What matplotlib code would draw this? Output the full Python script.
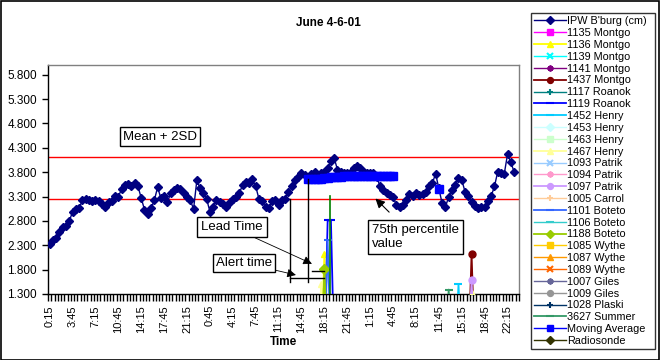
import numpy as np
import matplotlib
matplotlib.use("Agg")
import matplotlib.pyplot as plt
from matplotlib.patches import Rectangle

plt.rcParams['font.family'] = ['Liberation Sans', 'DejaVu Sans']

# ---------------- data ----------------
title = "June 4-6-01"
x_label = "Time"
n_categories = 144
tick_step = 7
tick_labels = ["0:15", "3:45", "7:15", "10:45", "14:15", "17:45", "21:15",
               "0:45", "4:15", "7:45", "11:15", "14:45", "18:15", "21:45",
               "1:15", "4:45", "8:15", "11:45", "15:15", "18:45", "22:15"]
y_ticks = [1.3, 1.8, 2.3, 2.8, 3.3, 3.8, 4.3, 4.8, 5.3, 5.8]

ipw = [2.33, 2.40, 2.44, 2.58, 2.67, 2.70, 2.79, 2.99, 3.04, 3.06,
       3.22, 3.25, 3.22, 3.20, 3.23, 3.20, 3.15, 3.09, 3.18, 3.20,
       3.31, 3.30, 3.45, 3.54, 3.56, 3.52, 3.57, 3.51, 3.27, 3.03,
       2.94, 3.06, 3.22, 3.49, 3.27, 3.31, 3.18, 3.37, 3.44, 3.47,
       3.45, 3.38, 3.30, 3.23, 3.04, 3.63, 3.47, 3.38, 3.25, 2.99,
       3.09, 3.23, 3.18, 3.15, 3.09, 3.18, 3.25, 3.30, 3.37, 3.54,
       3.59, 3.57, 3.66, 3.51, 3.25, 3.20, 3.09, 3.06, 3.20, 3.23,
       3.13, 3.22, 3.26, 3.40, 3.51, 3.63, 3.71, 3.78, 3.75, 3.71,
       3.77, 3.81, 3.71, 3.78, 3.81, 3.88, 4.02, 4.09, 3.85, 3.81,
       3.78, 3.78, 3.81, 3.88, 3.93, 3.88, 3.81, 3.78, 3.79, 3.78,
       3.71, 3.51, 3.44, 3.38, 3.33, 3.29, 3.13, 3.08, 3.13, 3.23,
       3.36, 3.32, 3.37, 3.34, 3.36, 3.40, 3.51, 3.57, 3.77, 3.47,
       3.16, 3.08, 3.30, 3.44, 3.54, 3.68, 3.64, 3.40, 3.31, 3.18,
       3.11, 3.06, 3.08, 3.08, 3.20, 3.31, 3.51, 3.81, 3.78, 3.77,
       4.17, 4.00, 3.81]

moving_avg_start = 79
moving_avg = [3.65, 3.65, 3.66, 3.66, 3.67, 3.68, 3.69, 3.70, 3.70, 3.71,
              3.71, 3.72, 3.72, 3.72, 3.73, 3.73, 3.73, 3.73, 3.73, 3.73,
              3.73, 3.73, 3.73, 3.72, 3.72, 3.72, 3.72]
moving_avg_extra_idx = 119
moving_avg_extra_val = 3.46

mean_2sd = 4.11
pct75 = 3.25

# sparse station reports: (category index, value)
spikes = {
    "1437 Montgo": [(129, 2.12)],
    "1136 Montgo": [(84, 2.12)],
    "1119 Roanok": [(85, 2.81), (86, 2.81)],
    "1452 Henry": [(125, 1.50)],
    "1467 Henry": [(83, 1.50), (129, 1.33)],
    "1097 Patrik": [(129, 1.59)],
    "1101 Boteto": [(85, 2.41)],
    "1188 Boteto": [(84, 1.82)],
    "3627 Summer": [(122, 1.39)],
}

series_names = ["IPW B'burg (cm)", "1135 Montgo", "1136 Montgo", "1139 Montgo",
                "1141 Montgo", "1437 Montgo", "1117 Roanok", "1119 Roanok",
                "1452 Henry", "1453 Henry", "1463 Henry", "1467 Henry",
                "1093 Patrik", "1094 Patrik", "1097 Patrik", "1005 Carrol",
                "1101 Boteto", "1106 Boteto", "1188 Boteto", "1085 Wythe",
                "1087 Wythe", "1089 Wythe", "1007 Giles", "1009 Giles",
                "1028 Plaski", "3627 Summer", "Moving Average", "Radiosonde"]
series_colors = ["#000080", "#FF00FF", "#FFFF00", "#00FFFF", "#800080", "#800000",
                 "#008080", "#0000FF", "#00CCFF", "#CCFFFF", "#CCFFCC", "#FFFF99",
                 "#99CCFF", "#FF99CC", "#CC99FF", "#FFCC99", "#3366FF", "#33CCCC",
                 "#99CC00", "#FFCC00", "#FF9900", "#FF6600", "#666699", "#969696",
                 "#003366", "#339966", "#0000FF", "#333300"]
star = (6, 2, 0)
series_markers = ["D", "s", "^", "x", star, "o", "+", "_", "_", "D", "s", "^",
                  "x", star, "o", "+", "_", "_", "D", "s", "^", "x", star, "o",
                  "+", "_", "s", "D"]

# annotation geometry (data coordinates)
lead_x_alert = 73.5
lead_y_bottom = 1.555
lead_h1_y, lead_h1_x = 1.631, 83.8
lead_h2_y, lead_h2_x0 = 1.775, 80.3
onset_x, onset_top = 85.8, 3.31

# ---------------- figure ----------------
W, H = 660, 360
fig = plt.figure(figsize=(W / 100, H / 100), dpi=100)
ax = fig.add_axes([48 / W, 1 - 294 / H, (519 - 48) / W, (294 - 65) / H])

x = np.arange(n_categories)

ax.axhline(mean_2sd, color="#FF0000", lw=1.0, zorder=1)
ax.axhline(pct75, color="#FF0000", lw=1.0, zorder=1)

handles = []
for name, col, mk in zip(series_names, series_colors, series_markers):
    thin = mk in ("_", "x", "+", star)
    ms = 6 if mk == "_" else 5
    if name == "IPW B'burg (cm)":
        y = np.full(n_categories, np.nan)
        y[:len(ipw)] = ipw
        h, = ax.plot(x, y, color=col, lw=1.0, marker="D", markersize=4.4,
                     markeredgecolor=col, zorder=4)
    elif name == "Moving Average":
        y = np.full(n_categories, np.nan)
        y[moving_avg_start:moving_avg_start + len(moving_avg)] = moving_avg
        y[moving_avg_extra_idx] = moving_avg_extra_val
        h, = ax.plot(x, y, color=col, lw=1.0, marker="s", markersize=5.3,
                     markeredgecolor=col, zorder=5)
    elif name in spikes:
        y = np.full(n_categories, np.nan)
        for idx, val in spikes[name]:
            y[idx] = val
        for idx, val in spikes[name]:
            for nb in (idx - 1, idx + 1):
                if np.isnan(y[nb]):
                    y[nb] = 0.0
        h, = ax.plot(x, y, color=col, lw=1.3, marker=mk, markersize=ms,
                     markeredgecolor=col, markeredgewidth=1.5 if thin else 1,
                     zorder=3)
    else:
        h, = ax.plot([], [], color=col, lw=1.0, marker=mk, markersize=ms,
                     markeredgecolor=col, markeredgewidth=1.5 if thin else 1)
    h.set_label(name)
    handles.append(h)

# lead-time construction lines
ax.plot([lead_x_alert, lead_x_alert], [pct75, lead_y_bottom], color="black", lw=1, zorder=6)
ax.plot([moving_avg_start, moving_avg_start], [moving_avg[0], lead_y_bottom],
        color="black", lw=1, zorder=6)
ax.plot([lead_x_alert, lead_h1_x], [lead_h1_y, lead_h1_y], color="black", lw=1, zorder=6)
ax.plot([lead_h2_x0, lead_h1_x], [lead_h2_y, lead_h2_y], color="black", lw=1, zorder=6)
ax.plot([onset_x, onset_x], [1.3, onset_top], color="#008000", lw=1.2, zorder=6)

box = dict(boxstyle="square,pad=0.25", fc="white", ec="black", lw=1)
ax.text(33.8, 4.53, "Mean + 2SD", fontsize=9.5, ha="center", va="center", bbox=box, zorder=7)
ax.annotate("Lead Time", xy=(80.2, 1.92), xytext=(55.8, 2.668), fontsize=9.5,
            ha="center", va="center", zorder=7,
            bbox=dict(boxstyle="square,pad=0.3", fc="white", ec="black", lw=1),
            arrowprops=dict(arrowstyle="-|>", color="black", lw=0.6,
                            mutation_scale=13, shrinkA=0, shrinkB=0))
ax.annotate("Alert time", xy=(75.3, 1.69), xytext=(59.4, 1.94), fontsize=9.5,
            ha="center", va="center", bbox=box, zorder=7,
            arrowprops=dict(arrowstyle="-|>", color="black", lw=0.6,
                            mutation_scale=13, shrinkA=0, shrinkB=0))
ax.annotate("", xy=(99.6, 3.26), xytext=(103.8, 2.98),
            arrowprops=dict(arrowstyle="-|>", color="black", lw=0.8,
                            mutation_scale=14, shrinkA=0, shrinkB=0), zorder=7)
ax.text(98.6, 2.477, "75th percentile\nvalue", fontsize=9.5, ha="left", va="center",
        linespacing=1.2, zorder=7,
        bbox=dict(boxstyle="square,pad=0.3", fc="white", ec="black", lw=1))

ax.set_xlim(-0.5, n_categories - 0.5)
ax.set_ylim(1.3, 6.0)
ax.set_yticks(y_ticks)
ax.set_yticklabels([f"{v:.3f}" for v in y_ticks], fontsize=8.5)
ax.tick_params(axis="y", direction="out", length=4, width=1, pad=4)
ax.set_xticks(np.arange(0, n_categories, tick_step)[:len(tick_labels)])
ax.set_xticklabels(tick_labels, rotation=90, fontsize=8)
ax.set_xticks(np.arange(-0.5, n_categories, 1), minor=True)
ax.tick_params(axis="x", which="major", length=0, pad=8)
ax.tick_params(axis="x", which="minor", direction="out", length=5, width=1)

for s in ("left", "bottom"):
    ax.spines[s].set_color("black")
    ax.spines[s].set_linewidth(1)
for s in ("top", "right"):
    ax.spines[s].set_color("#808080")
    ax.spines[s].set_linewidth(1)

fig.text(283.5 / W, 1 - 342 / H, x_label, fontsize=8.5, fontweight="bold",
         ha="center", va="center")
fig.text(328 / W, 1 - 22.7 / H, title, fontsize=8.5, fontweight="bold",
         ha="center", va="center")

leg = fig.legend(handles=handles, loc="upper left", mode="expand",
                 bbox_to_anchor=(531 / W, 1 - 347 / H, 124 / W, 334 / H),
                 bbox_transform=fig.transFigure,
                 fontsize=7.8, frameon=True, fancybox=False, edgecolor="black",
                 borderpad=0.3, labelspacing=0.17, handlelength=2.9,
                 handletextpad=0.15, borderaxespad=0, numpoints=1, markerscale=0.85)
leg.get_frame().set_linewidth(1)

fig.add_artist(Rectangle((0.5 / W, 0.5 / H), (W - 1.5) / W, (H - 1.5) / H,
                         transform=fig.transFigure, fill=False, ec="black", lw=1.2))

fig.savefig("out.png", dpi=100)
